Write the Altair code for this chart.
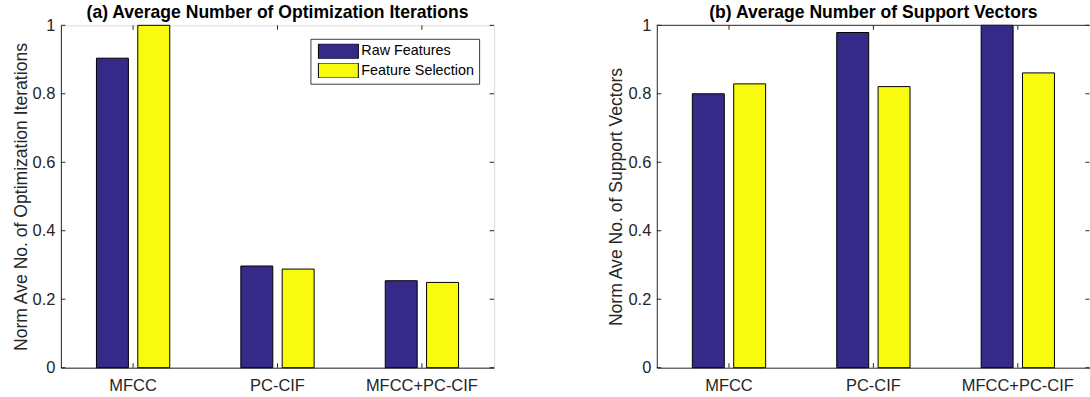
import altair as alt
import pandas as pd

categories = ["MFCC", "PC-CIF", "MFCC+PC-CIF"]
series = ["Raw Features", "Feature Selection"]
iter_raw = [0.904, 0.297, 0.254]
iter_fs = [1.0, 0.288, 0.249]
sv_raw = [0.800, 0.979, 1.0]
sv_fs = [0.829, 0.821, 0.861]
y_ticks = [0, 0.2, 0.4, 0.6, 0.8, 1.0]
colors = ["#352A87", "#F9FB0E"]

titles = ["(a) Average Number of Optimization Iterations",
          "(b) Average Number of Support Vectors"]
y_titles = ["Norm Ave No. of Optimization Iterations",
            "Norm Ave No. of Support Vectors"]

FONT = "Liberation Sans"
AX = "#262626"
H = 343
TICK = 4.5


def long_df(raw, fs):
    rows = []
    for c, r, f in zip(categories, raw, fs):
        rows.append({"cat": c, "series": series[0], "value": r})
        rows.append({"cat": c, "series": series[1], "value": f})
    return pd.DataFrame(rows)


def panel(df, title, ytitle, width, show_legend, frame_right):
    x_enc = alt.X(
        "cat:N", sort=categories,
        scale=alt.Scale(domain=categories, paddingInner=0, paddingOuter=0),
        axis=alt.Axis(title=None, labelAngle=0, labelFontSize=16.5, labelColor=AX,
                      labelFont=FONT, labelPadding=10, ticks=False, tickSize=0,
                      domainColor=AX, domainWidth=1, grid=False),
    )
    y_scale = alt.Scale(domain=[0, 1], nice=False, zero=True)
    y_axis = alt.Axis(title=ytitle, values=y_ticks, format=".1~f", labelFontSize=16.5,
                      labelColor=AX, labelFont=FONT, labelPadding=6, ticks=False,
                      tickSize=0, domainColor=AX, domainWidth=1, grid=False,
                      titleFontSize=17.6, titleFontWeight="normal", titleColor=AX,
                      titleFont=FONT, titlePadding=2)
    y_enc = alt.Y("value:Q", scale=y_scale, axis=y_axis)

    if show_legend:
        legend = alt.Legend(
            orient="none", legendX=250, legendY=13.5, title=None,
            symbolType="M-2.667,-1L2.667,-1L2.667,1L-2.667,1Z", symbolSize=225,
            symbolOffset=15, symbolStrokeColor="black", symbolStrokeWidth=1,
            symbolOpacity=1, labelFontSize=14.4, labelColor="black", labelFont=FONT,
            labelOffset=15, padding=5, rowPadding=3.3, clipHeight=15,
            fillColor="white", strokeColor="#3c3c3c",
        )
    else:
        legend = None

    bars = alt.Chart(df).mark_bar(stroke="black", strokeWidth=1, opacity=1).encode(
        x=x_enc,
        xOffset=alt.XOffset("series:N", sort=series,
                            scale=alt.Scale(domain=series, paddingInner=0.227,
                                            paddingOuter=0.86)),
        y=y_enc,
        color=alt.Color("series:N", sort=series,
                        scale=alt.Scale(domain=series, range=colors),
                        legend=legend),
    )

    right_x = width if frame_right else width - 0.5
    tdf = pd.DataFrame({"value": y_ticks})
    cdf = pd.DataFrame({"cat": categories})
    ytl = alt.Chart(tdf).mark_rule(color=AX, strokeWidth=1).encode(
        y=y_enc, x=alt.value(0), x2=alt.value(TICK))
    ytr = alt.Chart(tdf).mark_rule(color=AX, strokeWidth=1).encode(
        y=y_enc, x=alt.value(right_x), x2=alt.value(width - TICK))
    xtb = alt.Chart(cdf).mark_rule(color=AX, strokeWidth=1).encode(
        x=x_enc, y=alt.value(H), y2=alt.value(H - TICK))
    xtt = alt.Chart(cdf).mark_rule(color=AX, strokeWidth=1).encode(
        x=x_enc, y=alt.value(0), y2=alt.value(TICK))

    ttl = alt.Chart(pd.DataFrame({"t": [title]})).mark_text(
        font=FONT, fontSize=17.6, fontWeight="bold", color="black",
        align="center", baseline="alphabetic",
    ).encode(text="t:N", x=alt.value(width / 2), y=alt.value(-7))

    layers = [bars, ytl, ytr, xtb, xtt, ttl]
    props = dict(width=width, height=H)
    if not frame_right:
        top = alt.Chart(tdf.head(1)).mark_rule(color=AX, strokeWidth=1).encode(
            x=alt.value(0), x2=alt.value(right_x), y=alt.value(0))
        layers.append(top)
        props["view"] = alt.ViewBackground(stroke=None)
    return alt.layer(*layers).properties(**props)


left = panel(long_df(iter_raw, iter_fs), titles[0], y_titles[0], 434, True, True)
right = panel(long_df(sv_raw, sv_fs), titles[1], y_titles[1], 434, False, False)

chart = alt.hconcat(left, right, spacing=113).resolve_scale(
    color="independent").resolve_legend(color="independent").properties(
    padding={"left": 11, "top": 3, "right": 0, "bottom": 0},
    background="white",
).configure_view(stroke=AX, strokeWidth=1).configure(font=FONT)

chart.save("out.html", embed_options={"renderer": "svg", "actions": False})
